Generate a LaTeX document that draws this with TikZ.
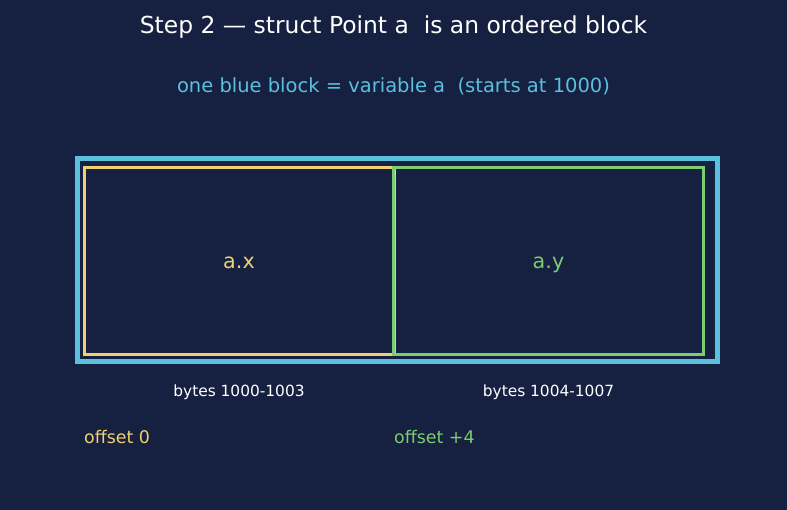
\documentclass[tikz,border=0pt]{standalone}
\usepackage{fontspec}
\setmainfont{DejaVu Sans}
\usepackage{xcolor}
\usetikzlibrary{positioning}

\definecolor{bgnavy}{HTML}{162040}
\definecolor{blockblue}{HTML}{5BC0DE}
\definecolor{fieldx}{HTML}{F0D070}
\definecolor{fieldy}{HTML}{7CCC70}

\begin{document}
\begin{tikzpicture}[x=1pt, y=-1pt,
    field/.style={draw, rectangle, line width=3pt, minimum width=310pt, minimum height=187pt, text height=17pt, text depth=3pt, font=\fontsize{20.7}{24}\selectfont},
    note/.style={text=white, font=\fontsize{15.4}{18}\selectfont}]

    \fill [bgnavy] (0,0) rectangle (787,510);

    \node [text=white, font=\fontsize{23.4}{28}\selectfont] (title) at (393.5,27) {Step 2 — struct Point a\ \ is an ordered block};
    \node [text=blockblue, font=\fontsize{19.5}{23}\selectfont] (sub) at (393.5,86) {one blue block = variable a\ \ (starts at 1000)};

    \node [draw=blockblue, line width=5pt, minimum width=640pt, minimum height=203pt] (blocka) at (397,260.5) {};
    \node [field, draw=fieldx, text=fieldx] (ax) at (239,261.5) {a.x};
    \node [field, draw=fieldy, text=fieldy] (ay) at (548.5,261.5) {a.y};

    \node [note] (bx) at (239,392) {bytes 1000-1003};
    \node [note] (by) at (548.5,392) {bytes 1004-1007};
    \node [note, text=fieldx, font=\fontsize{17.4}{20}\selectfont, anchor=west, inner sep=0pt] (offx) at (84,437) {offset 0};
    \node [note, text=fieldy, font=\fontsize{17.4}{20}\selectfont, anchor=west, inner sep=0pt] (offy) at (394,437) {offset +4};
\end{tikzpicture}
\end{document}
